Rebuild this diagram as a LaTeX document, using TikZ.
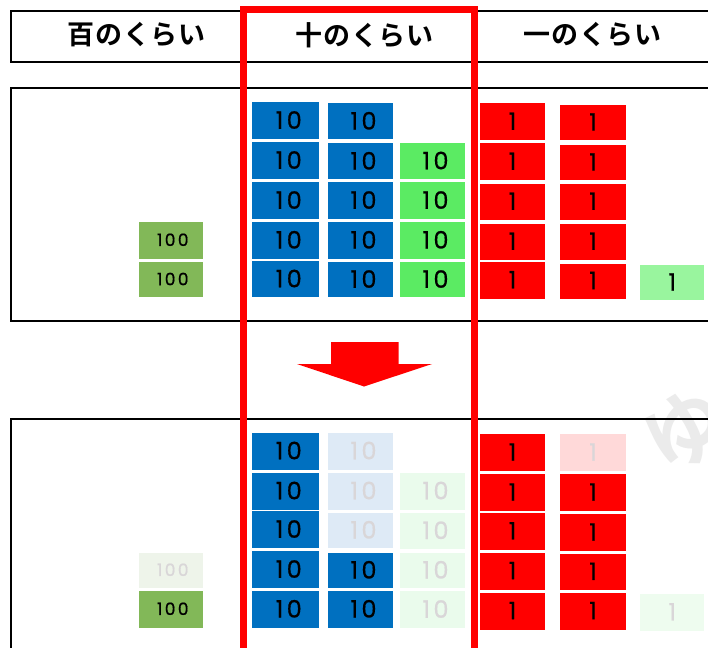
\documentclass[tikz,border=0pt]{standalone}
\usepackage{fontspec}
\newfontfamily\jpfont{Noto Sans CJK JP}[BoldFont={* Bold},LetterSpace=2]
\newfontfamily\markfont{Noto Sans CJK JP}[BoldFont={* Bold}]
\newfontfamily\numfont{Poppins}[LetterSpace=14,FakeBold=0.6]
\definecolor{blueB}{HTML}{0070C0}
\definecolor{greenB}{HTML}{5BEB63}
\definecolor{oliveB}{HTML}{82B858}
\definecolor{redB}{HTML}{FF0000}
\definecolor{limeB}{HTML}{99F59E}
\definecolor{blueF}{HTML}{DEEAF6}
\definecolor{greenF}{HTML}{EAFBEC}
\definecolor{oliveF}{HTML}{EEF4EA}
\definecolor{redF}{HTML}{FFD9D9}
\definecolor{limeF}{HTML}{EEFCEF}
\definecolor{fadeT}{HTML}{D9D6D8}
\definecolor{markG}{HTML}{EBEBEB}
\tikzset{
  panel/.style={draw=black,line width=2.6pt,fill=none},
  headtext/.style={font=\jpfont\bfseries\fontsize{27}{27}\selectfont,text=black,inner sep=0pt},
  blocktext/.style={font=\numfont\fontsize{24}{24}\selectfont,text=black,inner sep=0pt},
  smalltext/.style={font=\numfont\fontsize{17}{17}\selectfont,text=black,inner sep=0pt},
  focus/.style={draw=redB,line width=7pt},
  bigarrow/.style={fill=redB,draw=none}
}
% \blk{name}{x1}{y1}{x2}{y2}{fill}{textstyle}{textcolour}{dx}
\newcommand{\blk}[9]{%
  \fill[#6] (#2,#3) rectangle (#4,#5);
  \node[#7,text=#8] (#1) at ({(#2+#4)/2+#9},{(#3+#5)/2-0.5}) {\blktext};}
\newcommand{\blktext}{}
\newcommand{\tenB}[5]{\renewcommand{\blktext}{10}\blk{#1}{#2}{#3}{#4}{#5}{blueB}{blocktext}{black}{3.5}}
\newcommand{\tenBF}[5]{\renewcommand{\blktext}{10}\blk{#1}{#2}{#3}{#4}{#5}{blueF}{blocktext}{fadeT}{3.5}}
\newcommand{\tenG}[5]{\renewcommand{\blktext}{10}\blk{#1}{#2}{#3}{#4}{#5}{greenB}{blocktext}{black}{3.5}}
\newcommand{\tenGF}[5]{\renewcommand{\blktext}{10}\blk{#1}{#2}{#3}{#4}{#5}{greenF}{blocktext}{fadeT}{3.5}}
\newcommand{\oneR}[5]{\renewcommand{\blktext}{1}\blk{#1}{#2}{#3}{#4}{#5}{redB}{blocktext}{black}{0.5}}
\newcommand{\oneRF}[5]{\renewcommand{\blktext}{1}\blk{#1}{#2}{#3}{#4}{#5}{redF}{blocktext}{fadeT}{0.5}}
\newcommand{\oneL}[5]{\renewcommand{\blktext}{1}\blk{#1}{#2}{#3}{#4}{#5}{limeB}{blocktext}{black}{0.5}}
\newcommand{\oneLF}[5]{\renewcommand{\blktext}{1}\blk{#1}{#2}{#3}{#4}{#5}{limeF}{blocktext}{fadeT}{0.5}}
\newcommand{\hunO}[5]{\renewcommand{\blktext}{100}\blk{#1}{#2}{#3}{#4}{#5}{oliveB}{smalltext}{black}{2}}
\newcommand{\hunOF}[5]{\renewcommand{\blktext}{100}\blk{#1}{#2}{#3}{#4}{#5}{oliveF}{smalltext}{fadeT}{2}}
\begin{document}
\begin{tikzpicture}[x=1pt,y=-1pt]
\useasboundingbox (0,0) rectangle (708,647);
\clip (0,0) rectangle (708,647);
\fill[white] (0,0) rectangle (708,647);
% watermark
\node[font=\markfont\bfseries\fontsize{82}{82}\selectfont,text=markG,rotate=30,inner sep=0pt] (wm) at (686,430) {ゆ};
% frames
\draw[panel] (11,11) rectangle (720,62);
\draw[panel] (11,88) rectangle (720,321);
\draw[panel] (11,419) rectangle (720,680);
% headers
\node[headtext] (h100) at (136.5,35) {百のくらい};
\node[headtext] (h10) at (364.5,35) {十のくらい};
\node[headtext] (h1) at (592.5,35) {一のくらい};
% upper panel
\hunO{u1}{138.5}{222}{203}{258.5}
\hunO{u2}{138.5}{262}{203}{297}
\tenB{ua1}{252}{102}{318.5}{139}
\tenB{ua2}{252}{142}{318.5}{179}
\tenB{ua3}{252}{182}{318.5}{219}
\tenB{ua4}{252}{222}{318.5}{258.5}
\tenB{ua5}{252}{261}{318.5}{297}
\tenB{ub1}{327.5}{103.5}{392.5}{139}
\tenB{ub2}{327.5}{143.5}{392.5}{179}
\tenB{ub3}{327.5}{182}{392.5}{219}
\tenB{ub4}{327.5}{222}{392.5}{258.5}
\tenB{ub5}{327.5}{262}{392.5}{297}
\tenG{uc2}{399.5}{143.5}{464.5}{178.5}
\tenG{uc3}{399.5}{182}{464.5}{219}
\tenG{uc4}{399.5}{222}{464.5}{258.5}
\tenG{uc5}{399.5}{262}{464.5}{297}
\oneR{ud1}{479.5}{103.5}{544.5}{140}
\oneR{ud2}{479.5}{143.5}{544.5}{180}
\oneR{ud3}{479.5}{183.5}{544.5}{220}
\oneR{ud4}{479.5}{223.5}{544.5}{260}
\oneR{ud5}{479.5}{262}{544.5}{298.5}
\oneR{ue1}{559.5}{105}{625.5}{140}
\oneR{ue2}{559.5}{145}{625.5}{180}
\oneR{ue3}{559.5}{183.5}{625.5}{220}
\oneR{ue4}{559.5}{223.5}{625.5}{260}
\oneR{ue5}{559.5}{263.5}{625.5}{298.5}
\oneL{uf5}{639.5}{265}{704}{300}
% arrow
\fill[bigarrow] (331,342) -- (398.5,342) -- (398.5,364) -- (432,364) -- (364,386.5) -- (297,364) -- (331,364) -- cycle;
% lower panel
\hunOF{l1}{138.5}{552.5}{203}{588}
\hunO{l2}{138.5}{591}{203}{627.5}
\tenB{la1}{252}{432.5}{318.5}{469.5}
\tenB{la2}{252}{472.5}{318.5}{509.5}
\tenB{la3}{252}{511}{318.5}{548}
\tenB{la4}{252}{551}{318.5}{588}
\tenB{la5}{252}{591}{318.5}{627.5}
\tenBF{lb1}{327.5}{432.5}{392.5}{469.5}
\tenBF{lb2}{327.5}{472.5}{392.5}{509.5}
\tenBF{lb3}{327.5}{512.5}{392.5}{548}
\tenB{lb4}{327.5}{552.5}{392.5}{588}
\tenB{lb5}{327.5}{591}{392.5}{627.5}
\tenGF{lc2}{399.5}{472.5}{464.5}{509.5}
\tenGF{lc3}{399.5}{512.5}{464.5}{549}
\tenGF{lc4}{399.5}{552.5}{464.5}{588}
\tenGF{lc5}{399.5}{591}{464.5}{628}
\oneR{ld1}{479.5}{434}{544.5}{471}
\oneR{ld2}{479.5}{474}{544.5}{511}
\oneR{ld3}{479.5}{513}{544.5}{549.5}
\oneR{ld4}{479.5}{552.5}{544.5}{589.5}
\oneR{ld5}{479.5}{592.5}{544.5}{629.5}
\oneRF{le1}{559.5}{434}{625.5}{471}
\oneR{le2}{559.5}{474}{625.5}{511}
\oneR{le3}{559.5}{514}{625.5}{551}
\oneR{le4}{559.5}{554}{625.5}{589.5}
\oneR{le5}{559.5}{592.5}{625.5}{629.5}
\oneLF{lf5}{639.5}{594}{704}{630.5}
% focus outline
\draw[focus] (243.5,660) -- (243.5,9.5) -- (474.5,9.5) -- (474.5,660);
\end{tikzpicture}
\end{document}
